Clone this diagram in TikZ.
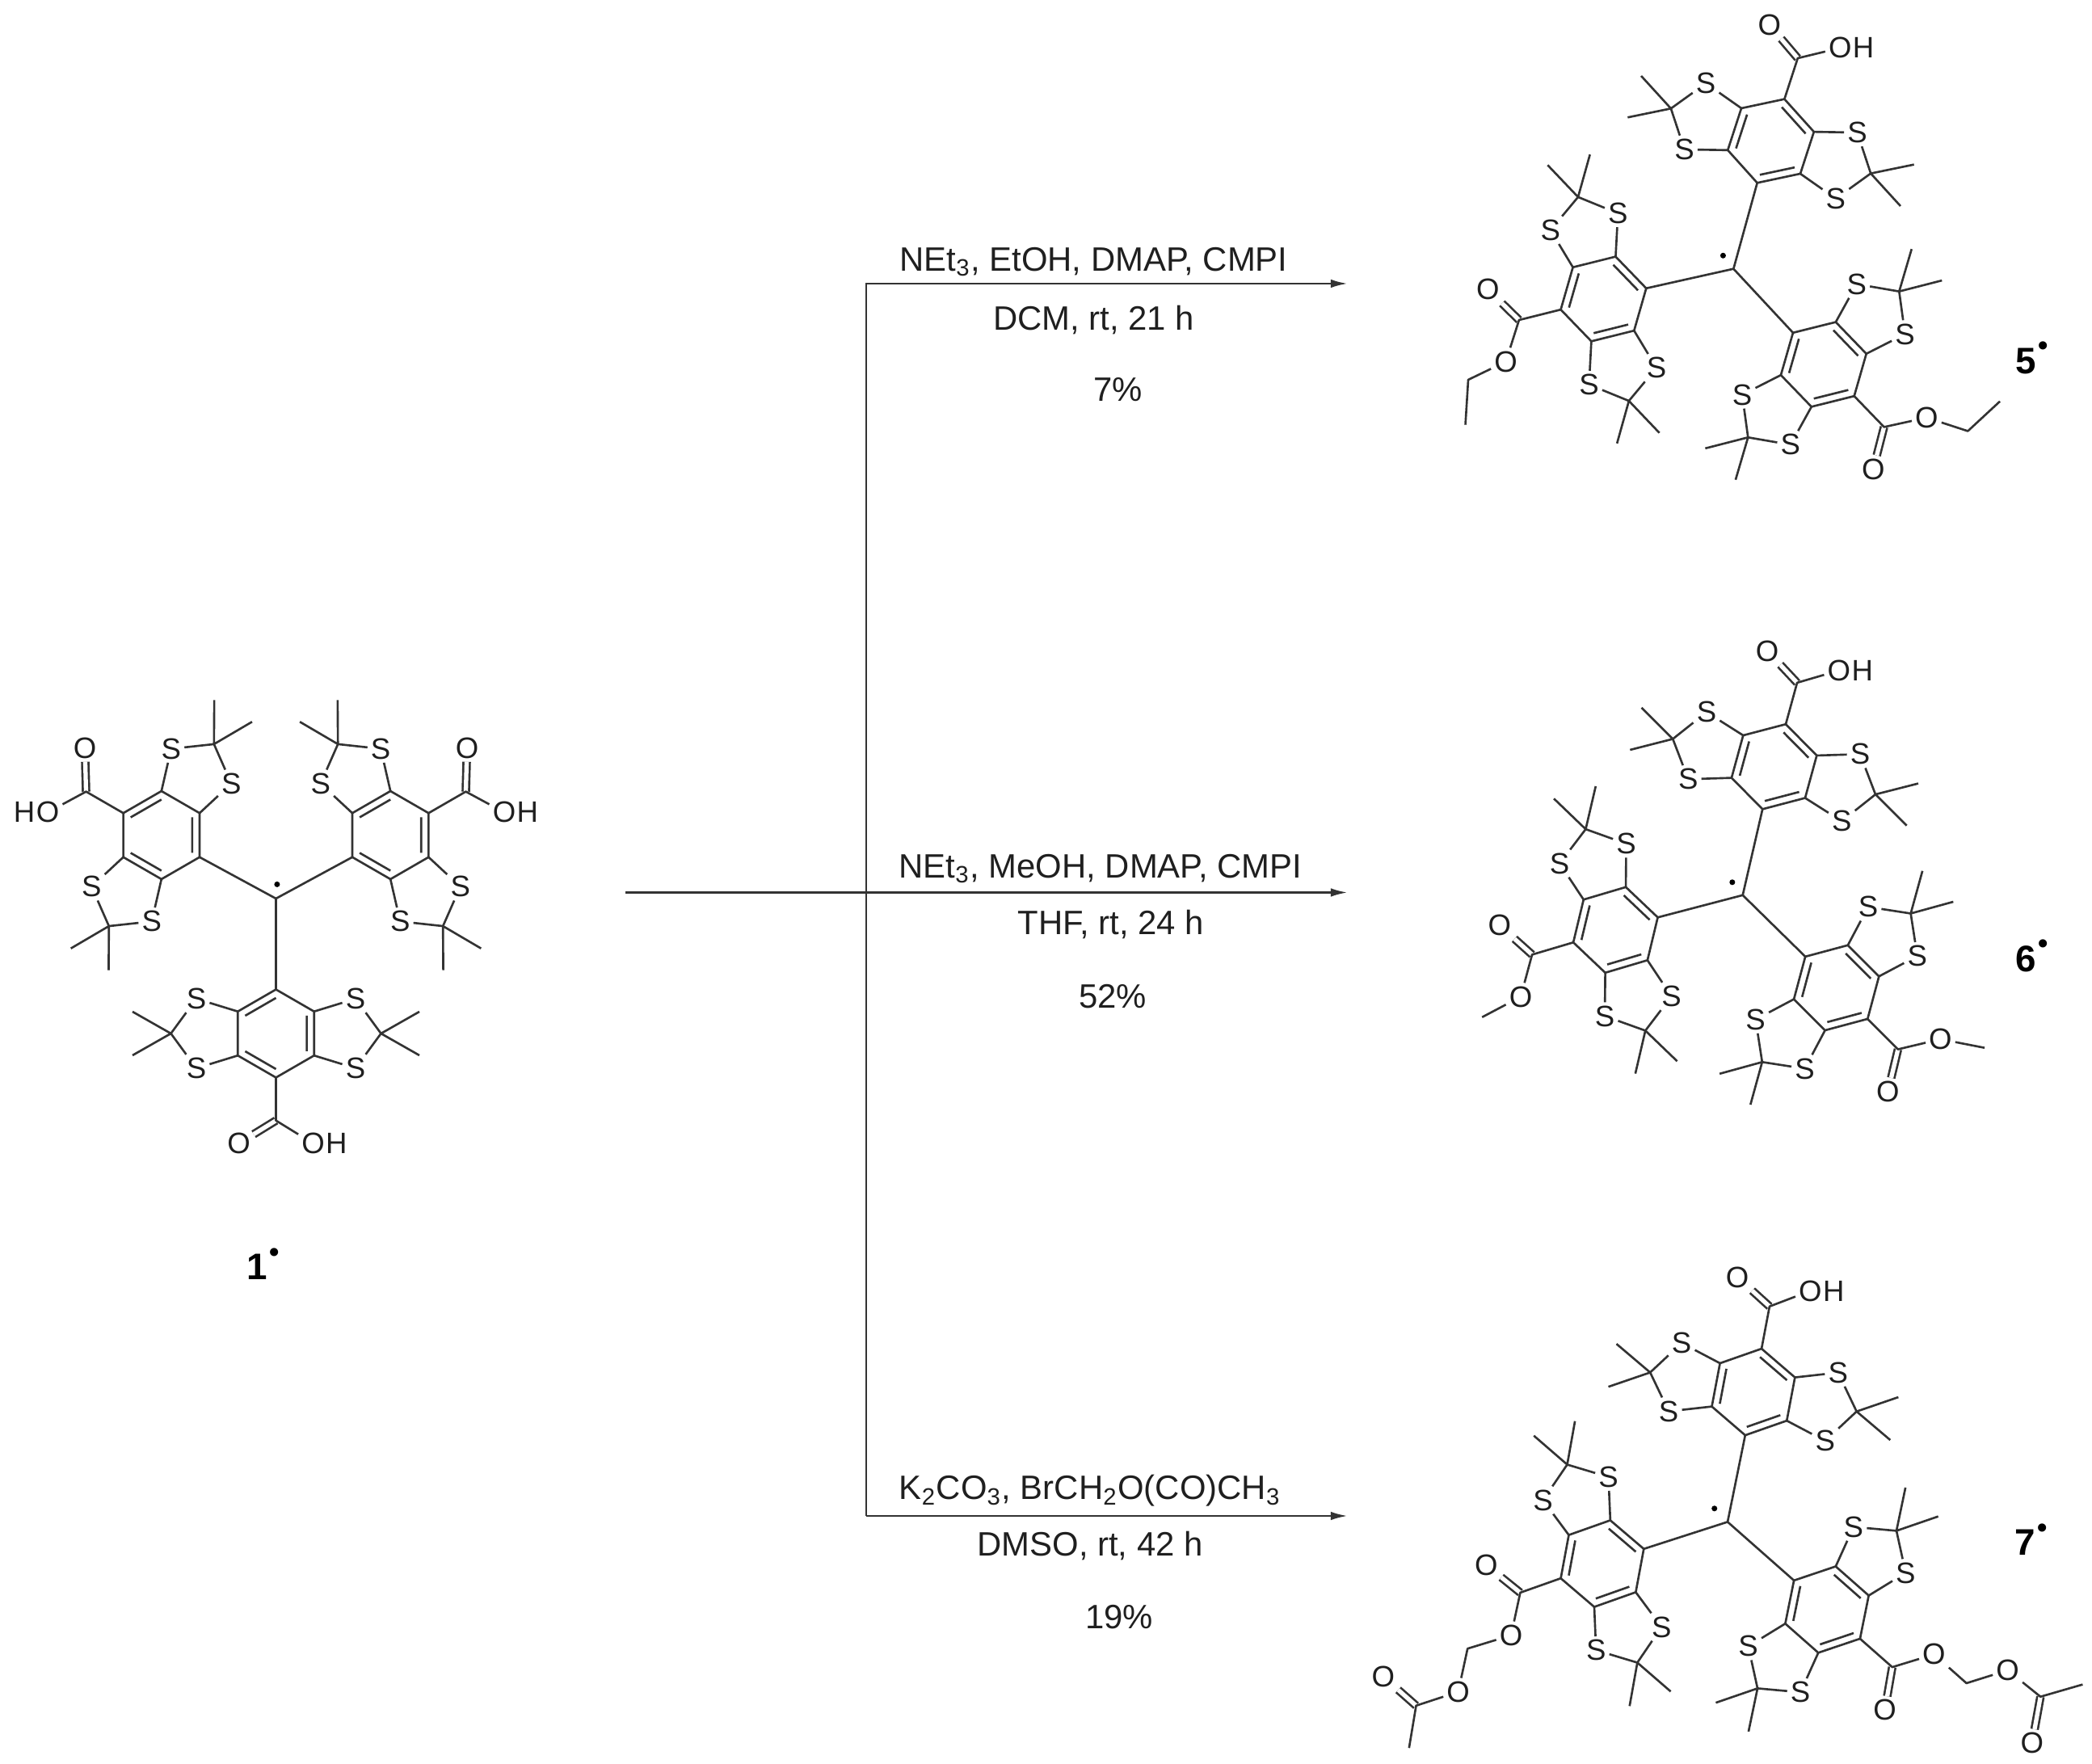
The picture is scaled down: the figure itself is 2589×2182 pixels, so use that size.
\documentclass[tikz,border=0pt]{standalone}
\usepackage{fontspec}
\setmainfont{Liberation Sans}
\usetikzlibrary{arrows.meta,positioning}
\definecolor{bondgray}{gray}{0.2}
\definecolor{textgray}{gray}{0.12}
\newcommand{\cmpdname}[1]{#1\smash{\rlap{\kern.7pt\raisebox{6.4pt}{\fontsize{10}{12}\selectfont\textbullet}}}}
\tikzset{
    atom/.style={inner sep=1pt,text=textgray,font=\fontsize{10.4}{12}\selectfont},
    bond/.style={draw=bondgray,line width=.75pt,line join=round},
    dbond/.style={bond,double,double distance=1.5pt},
    rxn/.style={draw=bondgray,line width=.8pt},
    reagent/.style={inner sep=0pt,text=textgray,font=\fontsize{11.9}{14}\selectfont},
    cmpd/.style={inner sep=0pt,text=black,font=\fontsize{13}{15}\selectfont\bfseries},
    radical/.style={circle,fill=black,inner sep=0pt,minimum size=2pt},
    pics/aryl/.style={code={
        \foreach \k/\a in {1/90,2/150,3/210,4/270,5/330,6/30} {
            \coordinate (-r\k) at (\a:54.5);
            \coordinate (-i\k) at (\a:44);
        }
        \node[atom] (-s1) at (98.5,43) {S};
        \node[atom] (-s2) at (98.5,-43) {S};
        \node[atom] (-s3) at (-98.5,43) {S};
        \node[atom] (-s4) at (-98.5,-43) {S};
        \coordinate (-q1) at (130,0);
        \coordinate (-q2) at (-130,0);
        \coordinate (-m1) at (177.5,27);
        \coordinate (-m2) at (177.5,-27);
        \coordinate (-m3) at (-177.5,27);
        \coordinate (-m4) at (-177.5,-27);
        \coordinate (-cx) at (0,-107.7);
        \node[atom] (-o1) at (#1*46,-136) {O};
        \node[atom] (-o2) at (-#1*46,-136) {O};
        \draw[dbond] (-cx) -- (-o1);
        \draw[bond] (-r1) -- (-r2) -- (-r3) -- (-r4) -- (-r5) -- (-r6) -- cycle;
        \draw[bond] (-i1) -- (-i2) (-i3) -- (-i4) (-i5) -- (-i6);
        \draw[bond] (-r6) -- (-s1) -- (-q1) -- (-s2) -- (-r5);
        \draw[bond] (-r2) -- (-s3) -- (-q2) -- (-s4) -- (-r3);
        \draw[bond] (-m1) -- (-q1) -- (-m2) (-m3) -- (-q2) -- (-m4);
        \draw[bond] (-r4) -- (-cx) -- (-o2);
    }}
}
\begin{document}
\begin{tikzpicture}[x=.01cm,y=.01cm]
    \useasboundingbox (0,0) rectangle (2589,2182);

    % compound 1
    \coordinate (c1) at (341.5,1070);
    \pic (bot1) at (341.5,903) {aryl=-1};
    \pic[rotate=-120] (left1) at (199.8,1148.5) {aryl=-1};
    \pic[rotate=120] (right1) at (483.2,1148.5) {aryl=1};
    \draw[bond] (c1) -- (bot1-r1) (c1) -- (left1-r1) (c1) -- (right1-r1);
    \node[radical] (dot1) at (342.9,1087.6) {};
    \node[atom,base right=-2pt of bot1-o2] (bot1-h) {H};
    \node[atom,base left=-2pt of left1-o2] (left1-h) {H};
    \node[atom,base right=-2pt of right1-o2] (right1-h) {H};
    \node[cmpd] (name1) at (318,614) {\cmpdname{1}};

    % compound 5
    \coordinate (c5) at (2145.3,1849.3);
    \pic[rotate=162] (top5) at (2191.5,2007.5) {aryl=1};
    \pic[rotate=-76] (left5) at (1984.4,1812) {aryl=-1};
    \pic[rotate=44] (right5) at (2256.8,1731) {aryl=-1};
    \draw[bond] (c5) -- (top5-r1) (c5) -- (left5-r1) (c5) -- (right5-r1);
    \node[radical] (dot5) at (2132.4,1865.7) {};
    \node[atom,base right=-2pt of top5-o2] (top5-h) {H};
    \coordinate (et5a) at (1817,1712);
    \coordinate (et5b) at (1813.5,1656.3);
    \coordinate (et5c) at (2435.3,1648.5);
    \coordinate (et5d) at (2475,1685.3);
    \draw[bond] (left5-o2) -- (et5a) -- (et5b);
    \draw[bond] (right5-o2) -- (et5c) -- (et5d);
    \node[cmpd] (name5) at (2507.6,1735) {\cmpdname{5}};

    % compound 6
    \coordinate (c6) at (2156.7,1074.2);
    \pic[rotate=164.7] (top6) at (2195.6,1233.2) {aryl=1};
    \pic[rotate=-73.5] (left6) at (1999.3,1031.2) {aryl=-1};
    \pic[rotate=45] (right6) at (2272.7,959.6) {aryl=-1};
    \draw[bond] (c6) -- (top6-r1) (c6) -- (left6-r1) (c6) -- (right6-r1);
    \node[radical] (dot6) at (2143.8,1090.2) {};
    \node[atom,base right=-2pt of top6-o2] (top6-h) {H};
    \coordinate (me6a) at (1834.2,923.2);
    \coordinate (me6b) at (2456,885.3);
    \draw[bond] (left6-o2) -- (me6a);
    \draw[bond] (right6-o2) -- (me6b);
    \node[cmpd] (name6) at (2507.6,995.5) {\cmpdname{6}};

    % compound 7
    \coordinate (c7) at (2138,298.6);
    \pic[rotate=169.3] (top7) at (2169.9,459.4) {aryl=1};
    \pic[rotate=-70.5] (left7) at (1982.9,247) {aryl=-1};
    \pic[rotate=48.6] (right7) at (2261,190.1) {aryl=-1};
    \draw[bond] (c7) -- (top7-r1) (c7) -- (left7-r1) (c7) -- (right7-r1);
    \node[radical] (dot7) at (2121.7,315.2) {};
    \node[atom,base right=-2pt of top7-o2] (top7-h) {H};
    \coordinate (ch7a) at (1816.2,141.8);
    \node[atom] (o7a) at (1804.6,88.3) {O};
    \coordinate (ac7a) at (1752.5,71.2);
    \node[atom] (co7a) at (1711.9,107) {O};
    \coordinate (me7a) at (1743.8,18.8);
    \draw[dbond] (ac7a) -- (co7a);
    \draw[bond] (left7-o2) -- (ch7a) -- (o7a) -- (ac7a) -- (me7a);
    \coordinate (ch7b) at (2433.6,99);
    \node[atom] (o7b) at (2484.6,115) {O};
    \coordinate (ac7b) at (2525.2,82.3);
    \node[atom] (co7b) at (2514.8,24.8) {O};
    \coordinate (me7b) at (2577.4,97.4);
    \draw[dbond] (ac7b) -- (co7b);
    \draw[bond] (right7-o2) -- (ch7b) -- (o7b) -- (ac7b) -- (me7b);
    \node[cmpd] (name7) at (2506,273) {\cmpdname{7}};

    % reaction arrows
    \coordinate (start) at (774,1077.5);
    \coordinate (join) at (1072,1077.5);
    \coordinate (joint) at (1072,1831);
    \coordinate (joinb) at (1072,306);
    \coordinate (end5) at (1668,1831);
    \coordinate (end6) at (1668,1077.5);
    \coordinate (end7) at (1668,306);
    \draw[rxn,-{Latex[length=6pt,width=3pt]}] (start) -- (join) -- (end6);
    \draw[rxn,-{Latex[length=6pt,width=3pt]}] (joinb) -- (joint) -- (end5);
    \draw[rxn,-{Latex[length=6pt,width=3pt]}] (joinb) -- (end7);

    \node[reagent] (cond5a) at (1353.5,1858) {NEt\textsubscript{3}, EtOH, DMAP, CMPI};
    \node[reagent] (cond5b) at (1353.5,1786) {DCM, rt, 21 h};
    \node[reagent] (yield5) at (1383.5,1700) {7\%};
    \node[reagent] (cond6a) at (1362,1107) {NEt\textsubscript{3}, MeOH, DMAP, CMPI};
    \node[reagent] (cond6b) at (1375,1038) {THF, rt, 24 h};
    \node[reagent] (yield6) at (1377,949) {52\%};
    \node[reagent] (cond7a) at (1349,337) {K\textsubscript{2}CO\textsubscript{3}, BrCH\textsubscript{2}O(CO)CH\textsubscript{3}};
    \node[reagent] (cond7b) at (1349,269) {DMSO, rt, 42 h};
    \node[reagent] (yield7) at (1385,181) {19\%};
\end{tikzpicture}
\end{document}
